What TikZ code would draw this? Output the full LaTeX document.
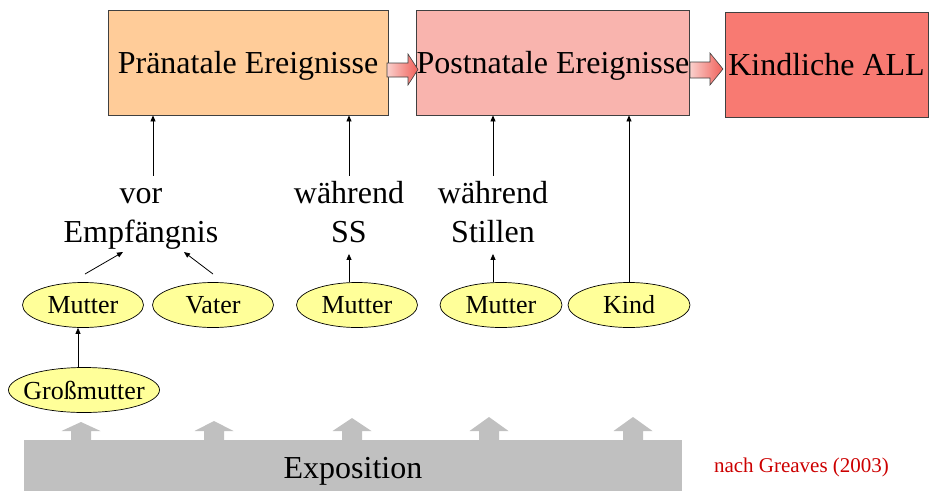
\documentclass[tikz,border=0pt]{standalone}
\usepackage{fontspec}
\setmainfont{Liberation Serif}
\usetikzlibrary{arrows.meta,shapes.geometric}
\definecolor{prec}{HTML}{FFCC99}
\definecolor{postc}{HTML}{F9B4AE}
\definecolor{allc}{HTML}{F87A72}
\definecolor{ellfill}{HTML}{FFFF99}
\definecolor{expgray}{HTML}{C0C0C0}
\definecolor{refred}{HTML}{CC0000}
\definecolor{boxline}{HTML}{404040}
\definecolor{arrlight}{HTML}{FAD0CC}
\definecolor{arrdark}{HTML}{F0605A}
\begin{document}
\begin{tikzpicture}[x=1pt,y=-1pt,
  box/.style={draw=boxline, line width=0.8pt, inner sep=0pt, text height=21pt, text depth=0pt,
    minimum height=105pt, font=\fontsize{32}{39}\selectfont},
  ell/.style={ellipse, draw=black, line width=0.7pt, fill=ellfill, inner xsep=-10pt, inner ysep=0pt,
    minimum height=45pt, font=\fontsize{26}{30}\selectfont},
  lbl/.style={align=center, inner sep=0pt, font=\fontsize{32}{39}\selectfont},
  arr/.style={-{Triangle[length=6pt,width=5pt]}, line width=0.8pt},
  barr/.style={draw=boxline, line width=0.6pt, left color=arrlight, right color=arrdark},
  garr/.style={fill=expgray}
]
\useasboundingbox (0,0) rectangle (929,490);

% main boxes
\node[box, fill=prec, minimum width=280pt] (pre) at (248,62.5) {Pränatale Ereignisse};
\node[box, fill=postc, minimum width=270pt] (post) at (553,62.5) {Postnatale Ereignisse};
\node[box, fill=allc, minimum width=203pt] (all) at (826.5,64.5) {Kindliche ALL};

% block arrows between boxes
\path[barr] (387,63) -- (408,63) -- (408,54) -- (418,69.5) -- (408,85) -- (408,77) -- (387,77) -- cycle;
\path[barr] (690,62) -- (710,62) -- (710,53) -- (723,69) -- (710,85) -- (710,78) -- (690,78) -- cycle;

% labels
\node[lbl] (vor) at (141,214.7) {\strut vor\\\strut Empfängnis};
\node[lbl] (ss) at (349,214.7) {\strut während\\\strut SS};
\node[lbl] (still) at (493,214.7) {\strut während\\\strut Stillen};

% ellipses
\node[ell, minimum width=121pt] (m1) at (83,305) {Mutter};
\node[ell, minimum width=121pt] (va) at (213,305) {Vater};
\node[ell, minimum width=121pt] (m2) at (357,305) {Mutter};
\node[ell, minimum width=122pt] (m3) at (501,305) {Mutter};
\node[ell, minimum width=122pt] (kd) at (629,305) {Kind};
\node[ell, minimum width=151pt] (gm) at (84,390) {Großmutter};

% arrows
\draw[arr] ([xshift=12pt]vor.north) -- ([xshift=12pt]vor.north |- pre.south);
\draw[arr] (ss.north) -- (ss.north |- pre.south);
\draw[arr] (still.north) -- (still.north |- post.south);
\draw[arr] (ss.south |- m2.north) -- (ss.south);
\draw[arr] (still.south |- m3.north) -- (still.south);
\draw[arr] (kd.north) -- (kd.north |- post.south);
\coordinate (a1) at (85,274);
\coordinate (e1) at (123,252);
\coordinate (a2) at (213,274);
\coordinate (e2) at (184,252);
\draw[arr] (a1) -- (e1);
\draw[arr] (a2) -- (e2);
\draw[arr] ([xshift=-6pt]gm.north) -- ([xshift=-5pt]m1.south);

% exposition
\node[fill=expgray, minimum width=658pt, minimum height=52pt, inner sep=0pt, anchor=north west] (expo) at (24,440) {};
\node[font=\fontsize{32}{39}\selectfont, anchor=base, inner sep=0pt] (expot) at (353,478) {Exposition};
\foreach \x/\t in {81/422,214/421,352/418,489/417,633/417}
  \path[garr] (\x-10,440.5) -- (\x-10,431) -- (\x-19.5,431) -- (\x,\t) -- (\x+19.5,431) -- (\x+10,431) -- (\x+10,440.5) -- cycle;

\node[text=refred, font=\fontsize{21}{25}\selectfont, anchor=base, inner sep=0pt] (src) at (801.5,472) {nach Greaves (2003)};
\end{tikzpicture}
\end{document}
